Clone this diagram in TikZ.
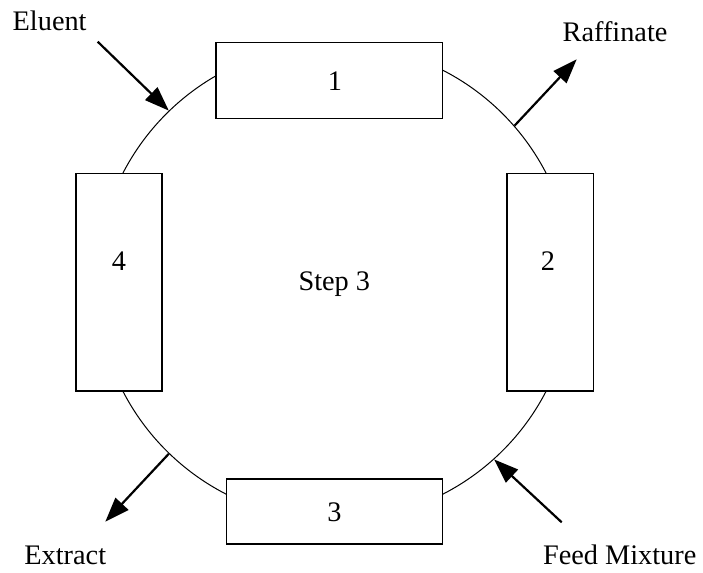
\documentclass[tikz,border=0pt]{standalone}
\usepackage{fontspec}
\setmainfont{Liberation Serif}
\usetikzlibrary{arrows.meta}
\begin{document}
\begin{tikzpicture}[x=0.5pt,y=-0.5pt,
  ring/.style={circle,draw,line width=0.5pt,minimum size=238pt,inner sep=0pt},
  col/.style={draw,fill=white,line width=0.65pt,inner sep=0pt},
  txt/.style={inner sep=0pt,font=\fontsize{14.15}{17}\selectfont},
  flow/.style={line width=1.1pt,-{Triangle[length=12.25pt,width=8.75pt]}}]
\useasboundingbox (0,0) rectangle (703,573);
\node[ring] (ring) at (334.5,282.2) {};
\node[col,minimum width=113.15pt,minimum height=38pt] (b1) at (329.1,80.7) {};
\node[col,minimum width=43.15pt,minimum height=108.85pt] (b2) at (550.2,282.2) {};
\node[col,minimum width=107.8pt,minimum height=32.5pt] (b3) at (334.5,511.5) {};
\node[col,minimum width=43pt,minimum height=108.85pt] (b4) at (119,282.2) {};
\node[txt,anchor=base] (l1) at (335,90.7) {1};
\node[txt,anchor=base] (l2) at (548,270.7) {2};
\node[txt,anchor=base] (l3) at (334.5,521) {3};
\node[txt,anchor=base] (l4) at (119,270.7) {4};
\node[txt,anchor=base] (step) at (334.3,290.5) {Step 3};
\node[txt,anchor=base west] (eluent) at (12.3,30.7) {Eluent};
\node[txt,anchor=base west] (raff) at (562.3,41.7) {Raffinate};
\node[txt,anchor=base west] (extract) at (24,564) {Extract};
\node[txt,anchor=base west] (feed) at (542.7,564) {Feed Mixture};
\coordinate (eluentTail) at (97.7,41.7);
\coordinate (raffTip) at (576.7,59.3);
\coordinate (extrTip) at (105.3,521.7);
\coordinate (feedTail) at (561.7,522.3);
\draw[flow] (eluentTail) -- (ring.134.4);
\draw[flow] (ring.41.7) -- (raffTip);
\draw[flow] (ring.226.6) -- (extrTip);
\draw[flow] (feedTail) -- (ring.312.8);
\end{tikzpicture}
\end{document}
